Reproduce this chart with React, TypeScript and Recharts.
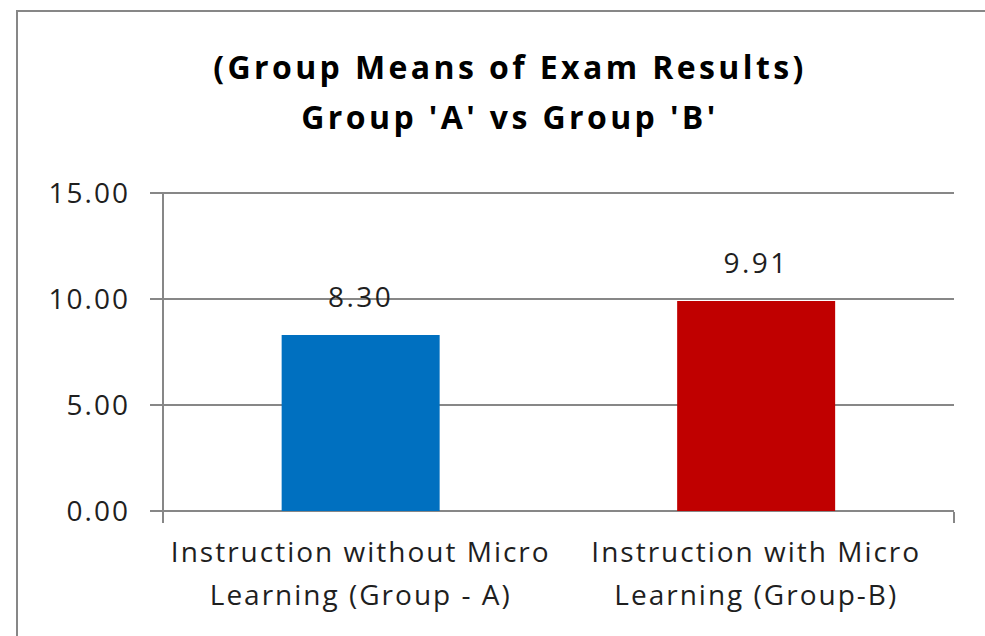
import { Bar, BarChart, CartesianGrid, Cell, LabelList, XAxis, YAxis } from "recharts";

const categories = [
  "Instruction without Micro\nLearning (Group - A)",
  "Instruction with Micro\nLearning (Group-B)",
];
const groupMeans = [8.3, 9.91];
const barColors = ["#0070C0", "#C00000"];
const yTicks = [0, 5, 10, 15];
const edgeTicks = [0, 1, 2];
const titleLines = ["(Group Means of Exam Results)", "Group 'A' vs Group 'B'"];

const data = categories.map((name, i) => ({ name, value: groupMeans[i] }));

const FONT = "'Open Sans', sans-serif";
const TEXT = "#1f1f1f";
const LINE = "#878787";

function CategoryTick({ x, y, payload }: any) {
  const lines = String(payload.value).split("\n");
  return (
    <text
      x={x}
      y={y}
      textAnchor="middle"
      fontFamily={FONT}
      fontSize={28}
      letterSpacing={2}
      fill={TEXT}
    >
      {lines.map((line, i) => (
        <tspan key={i} x={x} y={y + 51 + i * 43}>
          {line}
        </tspan>
      ))}
    </text>
  );
}

export default function App() {
  return (
    <div
      style={{
        position: "absolute",
        left: 0,
        top: 0,
        width: 985,
        height: 636,
        overflow: "hidden",
        background: "#fff",
      }}
    >
      <svg
        width={985}
        height={636}
        style={{ position: "absolute", left: 0, top: 0 }}
      >
        <path d="M17 636 V11 H985" fill="none" stroke={LINE} strokeWidth={2} />
        {titleLines.map((t, i) => (
          <text
            key={i}
            x={510}
            y={79 + i * 50}
            textAnchor="middle"
            fontFamily={FONT}
            fontWeight={700}
            fontSize={32}
            letterSpacing={3.4}
            fill="#000"
          >
            {t}
          </text>
        ))}
      </svg>
      <div style={{ position: "absolute", left: 0, top: 0 }}>
        <BarChart
          width={985}
          height={636}
          data={data}
          barCategoryGap="30%"
          margin={{ top: 193, right: 31, bottom: 25, left: 13 }}
        >
          <CartesianGrid
            horizontal
            vertical={false}
            stroke={LINE}
            strokeWidth={2}
          />
          <XAxis
            dataKey="name"
            type="category"
            height={1}
            axisLine={false}
            tickLine={false}
            tickSize={0}
            tickMargin={0}
            interval={0}
            tick={<CategoryTick />}
          />
          <XAxis
            xAxisId="edges"
            type="number"
            domain={[0, 2]}
            ticks={edgeTicks}
            allowDataOverflow
            height={99}
            axisLine={false}
            tickFormatter={() => ""}
            tickSize={11}
            stroke={LINE}
            strokeWidth={2}
          />
          <YAxis
            domain={[0, 15]}
            ticks={yTicks}
            width={150}
            tickSize={13}
            tickMargin={20}
            stroke={LINE}
            strokeWidth={2}
            tickFormatter={(v: number) => v.toFixed(2)}
            tick={{
              fill: TEXT,
              fontSize: 28,
              fontFamily: FONT,
              letterSpacing: 2,
            }}
          />
          <Bar dataKey="value" isAnimationActive={false}>
            {data.map((d, i) => (
              <Cell key={d.name} fill={barColors[i]} />
            ))}
            <LabelList
              dataKey="value"
              position="top"
              offset={28}
              formatter={(v: any) => Number(v).toFixed(2)}
              fill={TEXT}
              fontSize={28}
              fontFamily={FONT}
              letterSpacing={2.5}
            />
          </Bar>
        </BarChart>
      </div>
    </div>
  );
}
